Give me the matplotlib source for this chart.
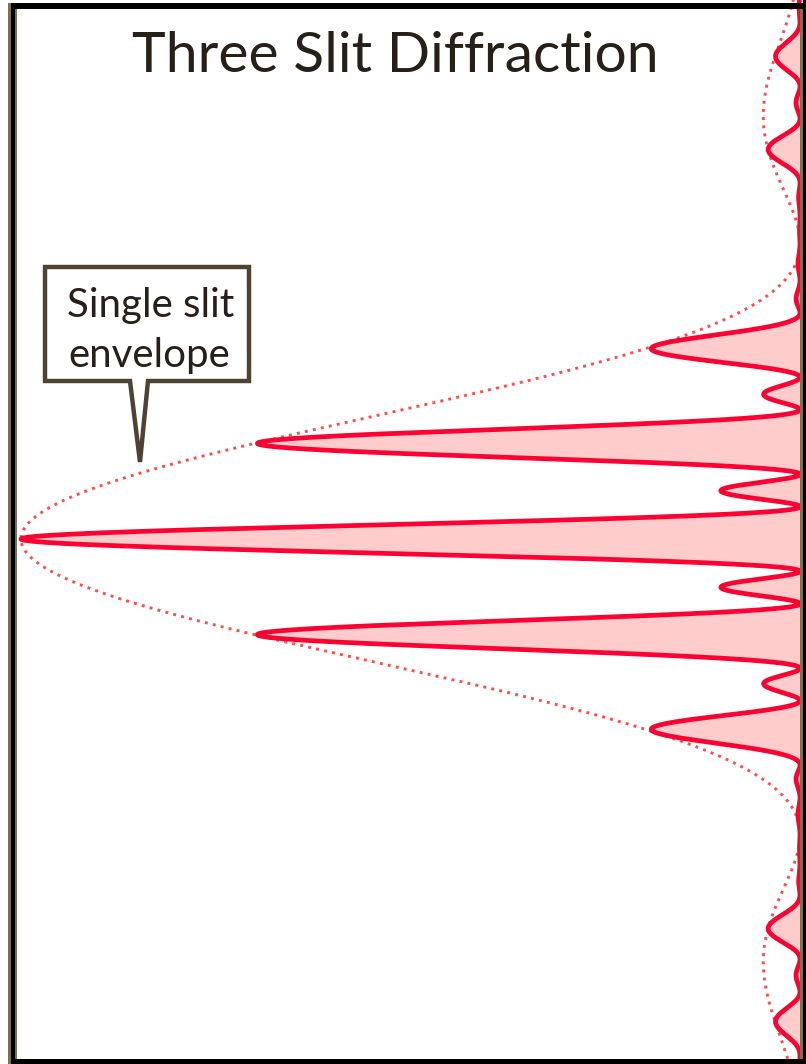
import numpy as np
import matplotlib.pyplot as plt
from matplotlib.patches import Rectangle, Polygon

# =========================
# VALUES
# =========================
N_SLITS = 3                # three slits
ENVELOPE_ZERO = 3.05       # first envelope zero, in units of the principal-max spacing
ORDER_RANGE = [-5.56, 5.42]  # visible screen range, in orders
TITLE = "Three Slit Diffraction"
CALLOUT = ["Single slit", "envelope"]

# pixel layout of the source picture
W, H = 806, 1064
CENTER_PX = 539      # screen centre row
SPACING_PX = 97      # principal-max spacing
BASE_PX = 800        # zero-intensity column
PEAK_PX = 21         # full-intensity column

RED = "#ff0033"
PINK = "#ffcccc"
DOT = "#ff4d4d"
BROWN = "#7d6e55"
INK = "#262018"

# =========================
# INTENSITY
# =========================
y = np.linspace(ORDER_RANGE[0] - 0.1, ORDER_RANGE[1] + 0.1, 6000)
env = np.sinc(y / ENVELOPE_ZERO) ** 2
alpha = np.pi * y
with np.errstate(divide="ignore", invalid="ignore"):
    grating = np.sin(N_SLITS * alpha) / (N_SLITS * np.sin(alpha))
grating = np.where(np.abs(np.sin(alpha)) < 1e-9, 1.0, grating)
intensity = env * grating ** 2

fig = plt.figure(figsize=(W / 100, H / 100), dpi=100)

ax = fig.add_axes([0, 0, 1, 1])
scale = BASE_PX - PEAK_PX
ax.set_xlim(BASE_PX / scale, (BASE_PX - W) / scale)
ax.set_ylim((H - CENTER_PX) / SPACING_PX, -CENTER_PX / SPACING_PX)
ax.axis("off")

ax.fill_betweenx(y, 0, intensity, color=PINK, lw=0, zorder=1)
ax.plot(intensity, y, color=RED, lw=3.4, solid_joinstyle="round", zorder=3)
ax.plot(env, y, color=DOT, lw=2.1, ls=(0, (1, 1.8)), zorder=2)

# =========================
# FRAME, TITLE, CALLOUT (pixel overlay)
# =========================
ov = fig.add_axes([0, 0, 1, 1])
ov.set_xlim(0, W)
ov.set_ylim(H, 0)
ov.axis("off")
ov.patch.set_alpha(0)

ov.add_patch(Rectangle((8, 3), 3, 1061, color=BROWN, lw=0))
ov.add_patch(Rectangle((11, 3), 4, 1061, color="black", lw=0))
ov.add_patch(Rectangle((15, 9), 2, 1050, color=BROWN, lw=0))
ov.add_patch(Rectangle((11, 3), 795, 6, color="black", lw=0))
ov.add_patch(Rectangle((11, 1059), 795, 5, color="black", lw=0))
ov.add_patch(Rectangle((800, 9), 3, 1050, color=BROWN, lw=0))
ov.add_patch(Rectangle((803, 0), 3, 1064, color="black", lw=0))

ov.text(395, 72, TITLE, ha="center", va="baseline", fontsize=41,
        family="Lato", color=INK)

box = [(45, 267), (249, 267), (249, 381), (148, 381), (140, 462),
       (130, 381), (45, 381)]
ov.add_patch(Polygon(box, closed=True, facecolor="white", edgecolor="#4e4332",
                     lw=3.2, joinstyle="miter", zorder=5))
ov.text(151, 317, CALLOUT[0], ha="center", va="baseline", fontsize=29,
        family="Lato", color=INK, zorder=6)
ov.text(149, 367, CALLOUT[1], ha="center", va="baseline", fontsize=29,
        family="Lato", color=INK, zorder=6)

fig.savefig("out.png", dpi=100)
